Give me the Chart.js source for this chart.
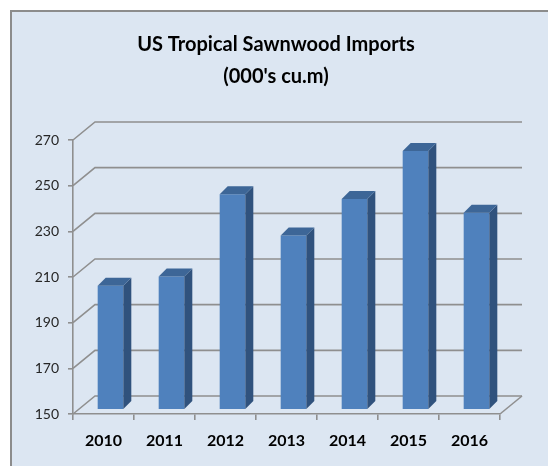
<!DOCTYPE html>
<html>
<head>
<meta charset="utf-8">
<script src="https://cdn.jsdelivr.net/npm/chart.js@4"></script>
<style>
  html, body { margin: 0; padding: 0; background: #fff; }
  #panel {
    position: absolute; left: 10px; top: 10px; width: 540px; height: 460px;
    background: #DCE6F2; border-top: 2px solid #8c8c8c; border-left: 2px solid #8c8c8c;
  }
  #wrap { position: absolute; left: 0; top: 0; width: 548px; height: 466px; }
</style>
</head>
<body>
<div id="panel"></div>
<div id="wrap"><canvas id="importsChart" width="548" height="466"></canvas></div>
<script>
const years = ['2010', '2011', '2012', '2013', '2014', '2015', '2016'];
const imports = [204, 208, 244, 226, 242, 263, 236];
const yTicks = [150, 170, 190, 210, 230, 250, 270];

const gridColor = '#8f8f8f';

// draws the back wall, side wall and floor, then shifts the bars into depth
const box3d = {
    id: 'box3d',
    afterLayout(chart) {
        // centre the title over the whole panel, not just the padded box
        chart.titleBlock.right += 42;
        chart.titleBlock.width += 42;
    },
    beforeDatasetsDraw(chart) {
        const { ctx, chartArea, scales } = chart;
        const dx = 22, dy = -18;
        ctx.save();
        ctx.strokeStyle = gridColor;
        ctx.lineWidth = 1.6;
        yTicks.forEach(v => {
            const y = scales.y.getPixelForValue(v);
            ctx.beginPath();
            ctx.moveTo(chartArea.left, y);
            ctx.lineTo(chartArea.left + dx, y + dy);
            ctx.lineTo(chartArea.right + dx, y + dy);
            ctx.stroke();
        });
        ctx.beginPath();
        ctx.moveTo(chartArea.right, chartArea.bottom);
        ctx.lineTo(chartArea.right + dx, chartArea.bottom + dy);
        ctx.stroke();
        ctx.restore();

        ctx.save();
        ctx.translate(7, -5);
    },
    afterDatasetsDraw(chart) {
        const ctx = chart.ctx;
        const d = 8;
        const base = chart.scales.y.getPixelForValue(chart.scales.y.min);
        chart.getDatasetMeta(0).data.forEach(bar => {
            const l = bar.x - bar.width / 2, r = bar.x + bar.width / 2;
            ctx.fillStyle = '#30527d';
            ctx.beginPath();
            ctx.moveTo(r, bar.y);
            ctx.lineTo(r + d, bar.y - d);
            ctx.lineTo(r + d, base - d);
            ctx.lineTo(r, base);
            ctx.closePath();
            ctx.fill();
            ctx.fillStyle = '#3d6697';
            ctx.beginPath();
            ctx.moveTo(l, bar.y);
            ctx.lineTo(l + d, bar.y - d);
            ctx.lineTo(r + d, bar.y - d);
            ctx.lineTo(r, bar.y);
            ctx.closePath();
            ctx.fill();
        });
        ctx.restore();
    }
};

new Chart(document.getElementById('importsChart'), {
    type: 'bar',
    data: {
        labels: years,
        datasets: [{
            data: imports,
            backgroundColor: '#4f81bd',
            borderWidth: 0,
            categoryPercentage: 1,
            barPercentage: 0.42,
        }],
    },
    options: {
        responsive: false,
        animation: false,
        layout: { padding: { left: 10, right: 48, top: 0, bottom: 0 } },
        plugins: {
            legend: { display: false },
            tooltip: { enabled: false },
            title: {
                display: true,
                text: ['US Tropical Sawnwood Imports', "(000's cu.m)"],
                color: '#000',
                font: { family: 'Lato', size: 20, weight: 'bold', lineHeight: 1.6 },
                padding: { top: 29, bottom: 47 },
            },
        },
        scales: {
            x: {
                grid: { drawOnChartArea: false, offset: true, tickLength: 6, color: gridColor, lineWidth: 1.6 },
                border: { display: true, color: gridColor, width: 1.6 },
                ticks: { color: '#000', padding: 11, font: { family: 'Lato', size: 16, weight: 'bold' } },
                afterFit: scale => { scale.height = 52; },
            },
            y: {
                min: 150,
                max: 270,
                grid: { drawOnChartArea: false, tickLength: 5, color: gridColor, lineWidth: 1.6 },
                border: { display: true, color: gridColor, width: 1.6 },
                ticks: { stepSize: 20, color: '#262626', padding: 9, font: { family: 'Lato', size: 14 } },
                afterFit: scale => { scale.width = 63; },
            },
        },
    },
    plugins: [box3d],
});
</script>
</body>
</html>
